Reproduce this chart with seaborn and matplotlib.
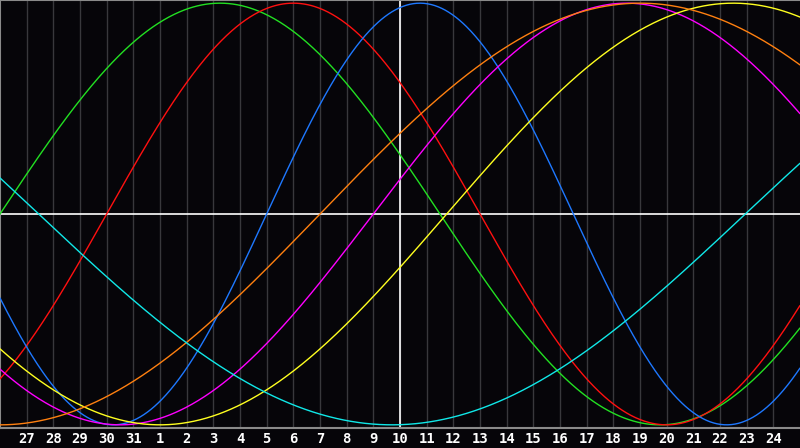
import numpy as np
import pandas as pd
import matplotlib
matplotlib.use("Agg")
import matplotlib.pyplot as plt
import seaborn as sns

# day labels along the bottom (Dec 27 .. Jan 24), one per grid line
day_labels = [27, 28, 29, 30, 31, 1, 2, 3, 4, 5, 6, 7, 8, 9, 10, 11, 12,
              13, 14, 15, 16, 17, 18, 19, 20, 21, 22, 23, 24]
today_label = 10

# biorhythm cycles: period in days and the day (from the left edge) where each curve rises through zero
cycles = ["intellectual", "emotional", "physical", "intuitive", "aesthetic", "awareness", "spiritual"]
periods = [33, 28, 23, 38, 43, 48, 53]
zero_days = [0.0, 4.0, 10.0, 14.0, 16.75, 12.0, 27.95]
colors = ["#22e022", "#ff1010", "#1e78ff", "#ff00ff", "#ffff20", "#ff8010", "#10e8e8"]

BG = "#060509"


def build_frame():
    t = np.linspace(0, len(day_labels) + 1, 901)
    rows = []
    for name, p, z in zip(cycles, periods, zero_days):
        rows.append(pd.DataFrame({"day": t, "value": np.sin(2 * np.pi * (t - z) / p), "cycle": name}))
    return pd.concat(rows, ignore_index=True)


def main():
    df = build_frame()
    sns.set_style("dark")
    fig = plt.figure(figsize=(8, 4.48), dpi=100, facecolor=BG)
    ax = fig.add_axes([0, 20 / 448, 1, 428 / 448])
    ax.set_facecolor(BG)

    ticks = list(range(1, len(day_labels) + 1))
    for x in ticks:
        ax.axvline(x, color="#38383c", lw=1, zorder=1)
    ax.axvline(ticks[day_labels.index(today_label)], color="white", lw=1.2, zorder=2)
    ax.axhline(0, color="white", lw=1.2, zorder=2)

    sns.lineplot(data=df, x="day", y="value", hue="cycle", palette=dict(zip(cycles, colors)),
                 lw=1, legend=False, ax=ax, zorder=3)

    ax.set_xlim(0, len(day_labels) + 1)
    ax.set_ylim(-1.015, 1.015)
    ax.set_xticks(ticks)
    ax.set_xticklabels([str(d) for d in day_labels], color="white", fontsize=10,
                       fontweight="bold", family="DejaVu Sans Mono")
    ax.tick_params(axis="x", length=0, pad=3)
    ax.set_yticks([])
    ax.set_xlabel("")
    ax.set_ylabel("")
    ax.grid(False)
    for side in ["left", "top", "bottom"]:
        ax.spines[side].set_color("#8a8a8a")
        ax.spines[side].set_linewidth(1.5)
    ax.spines["right"].set_visible(False)

    fig.savefig("out.png", dpi=100, facecolor=BG)
    plt.close(fig)


if __name__ == "__main__":
    main()
